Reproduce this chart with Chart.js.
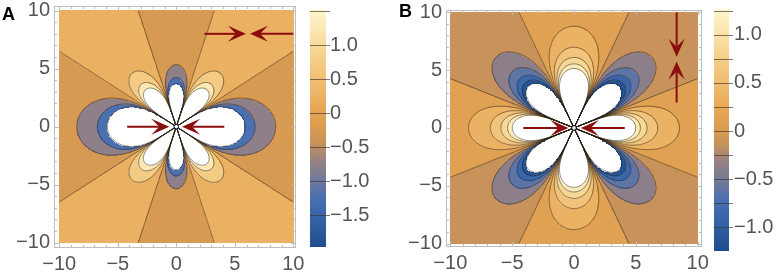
<!DOCTYPE html>
<html>
<head>
<meta charset="utf-8">
<script src="https://cdn.jsdelivr.net/npm/chart.js@4.4.1/dist/chart.umd.min.js"></script>
<style>
body { margin: 0; background: #fff; width: 782px; height: 276px; overflow: hidden; position: relative; font-family: "Liberation Sans", Arial, sans-serif; }
.panel { position: absolute; top: 0; width: 391px; height: 276px; }
.tag { position: absolute; font-weight: bold; font-size: 18px; color: #000; }
</style>
</head>
<body>
<div class="panel" style="left:0"><canvas id="chartA" width="391" height="276"></canvas><div class="tag" style="left:2px;top:4px">A</div></div>
<div class="panel" style="left:391px"><canvas id="chartB" width="391" height="276"></canvas><div class="tag" style="left:8px;top:1px">B</div></div>
<script>
// axes
var axisTicks = [-10, -5, 0, 5, 10];
var minorTicks = [-9, -8, -7, -6, -4, -3, -2, -1, 1, 2, 3, 4, 6, 7, 8, 9];
var fieldRange = [-10, 10];

// panel A: field ~ f(theta) / r^3, f = weights of cos(0), cos(2t), cos(4t), cos(8t)
var harmonicsA = [-48.9, -115.0, -142.6, 0];
var levelsA = [-1.5, -1, -0.5, 0, 0.5, 1, 1.5];
var barRangeA = [-1.97, 1.51];
var barTicksA = [-1.5, -1, -0.5, 0, 0.5, 1];
var arrowsA = [[2.4, 8, 5.95, 8], [10, 8, 6.3, 8], [-4.2, 0, -0.6, 0], [4.1, 0, 0.5, 0]];

// panel B
var harmonicsB = [4.25, -7.5, 166.25, -8];
var levelsB = [-1.25, -1, -0.75, -0.5, -0.25, 0, 0.25, 0.5, 0.75, 1, 1.25];
var barRangeB = [-1.24, 1.27];
var barTicksB = [-1, -0.5, 0, 0.5, 1];
var arrowsB = [[8.3, 10, 8.3, 6.15], [8.3, 2.2, 8.3, 5.75], [-4.1, 0, -0.45, 0], [4.1, 0, 0.55, 0]];

// colour map (position along the colour bar -> colour)
var paletteStops = [0, 0.12, 0.21, 0.30, 0.36, 0.44, 0.50, 0.58, 0.66, 0.78, 0.90, 1];
var paletteColors = ['#1d4c8c', '#3563a8', '#4a70b0', '#7a7b96', '#938085', '#c6925b',
                     '#d99b52', '#e6a653', '#edb568', '#f4cb83', '#fae3aa', '#fff5cc'];

var GRID = 300;
var textColor = '#555';
var tickFont = { family: '"Liberation Sans", Arial, sans-serif', size: 20 };

function hexToRgb(h) {
    return [parseInt(h.slice(1, 3), 16), parseInt(h.slice(3, 5), 16), parseInt(h.slice(5, 7), 16)];
}
var paletteRgb = paletteColors.map(hexToRgb);

function paletteAt(t) {
    t = Math.min(1, Math.max(0, t));
    var k = 0;
    while (k < paletteStops.length - 2 && t > paletteStops[k + 1]) k++;
    var u = (t - paletteStops[k]) / (paletteStops[k + 1] - paletteStops[k]);
    var a = paletteRgb[k], b = paletteRgb[k + 1];
    return 'rgb(' + a.map(function(c, i) { return Math.round(c + (b[i] - c) * u); }).join(',') + ')';
}

function fieldValue(h, x, y) {
    var r = Math.hypot(x, y);
    if (r < 0.05) r = 0.05;
    var t = Math.atan2(y, x);
    var f = h[0] + h[1] * Math.cos(2 * t) + h[2] * Math.cos(4 * t) + h[3] * Math.cos(8 * t);
    return f / (r * r * r);
}

function bandColor(v, cfg) {
    var L = cfg.levels;
    if (v < L[0] || v > L[L.length - 1]) return '#ffffff';
    var k = 0;
    while (k < L.length - 2 && v > L[k + 1]) k++;
    var mid = (L[k] + L[k + 1]) / 2;
    return paletteAt((mid - cfg.bar[0]) / (cfg.bar[1] - cfg.bar[0]));
}

function fmtAxis(v) {
    return v === 0 ? '0' : (v < 0 ? '\u2212' : '') + Math.abs(v);
}
function fmtBar(v) {
    return v === 0 ? '0' : (v < 0 ? '\u2212' : '') + Math.abs(v).toFixed(1);
}

function drawArrow(ctx, xs, ys, a) {
    var x0 = xs.getPixelForValue(a[0]), y0 = ys.getPixelForValue(a[1]);
    var x1 = xs.getPixelForValue(a[2]), y1 = ys.getPixelForValue(a[3]);
    var len = Math.hypot(x1 - x0, y1 - y0);
    var dx = (x1 - x0) / len, dy = (y1 - y0) / len;
    var L = 18, W = 8, notch = 10;
    ctx.strokeStyle = '#8b0d0d';
    ctx.fillStyle = '#8b0d0d';
    ctx.lineWidth = 2;
    ctx.beginPath();
    ctx.moveTo(x0, y0);
    ctx.lineTo(x1 - dx * notch, y1 - dy * notch);
    ctx.stroke();
    ctx.beginPath();
    ctx.moveTo(x1, y1);
    ctx.lineTo(x1 - dx * L - dy * W, y1 - dy * L + dx * W);
    ctx.lineTo(x1 - dx * notch, y1 - dy * notch);
    ctx.lineTo(x1 - dx * L + dy * W, y1 - dy * L - dx * W);
    ctx.closePath();
    ctx.fill();
}

var contourPlugin = {
    id: 'contourField',
    afterDraw: function(chart) {
        var cfg = chart.options.plugins.contourField;
        var ctx = chart.ctx, xs = chart.scales.x, ys = chart.scales.y, cb = chart.scales.cb;
        var lo = fieldRange[0], hi = fieldRange[1], n = GRID, step = (hi - lo) / n;
        var i, j;

        // filled bands, one cell per grid step
        ctx.save();
        for (i = 0; i < n; i++) {
            var px0 = Math.floor(xs.getPixelForValue(lo + i * step));
            var px1 = Math.ceil(xs.getPixelForValue(lo + (i + 1) * step));
            for (j = 0; j < n; j++) {
                var py0 = Math.ceil(ys.getPixelForValue(lo + j * step));
                var py1 = Math.floor(ys.getPixelForValue(lo + (j + 1) * step));
                ctx.fillStyle = bandColor(fieldValue(cfg.harmonics, lo + (i + 0.5) * step, lo + (j + 0.5) * step), cfg);
                ctx.fillRect(px0, py1, px1 - px0, py0 - py1);
            }
        }

        // contour lines (marching squares)
        var pxs = [], pys = [], vals = [];
        for (i = 0; i <= n; i++) {
            pxs.push(xs.getPixelForValue(lo + i * step));
            pys.push(ys.getPixelForValue(lo + i * step));
        }
        for (i = 0; i <= n; i++) {
            for (j = 0; j <= n; j++) vals.push(fieldValue(cfg.harmonics, lo + i * step, lo + j * step));
        }
        var V = function(a, b) { return vals[a * (n + 1) + b]; };
        ctx.beginPath();
        ctx.rect(pxs[0], pys[n], pxs[n] - pxs[0], pys[0] - pys[n]);
        ctx.clip();
        ctx.strokeStyle = 'rgba(45,35,25,0.6)';
        ctx.lineWidth = 0.9;
        ctx.beginPath();
        cfg.levels.forEach(function(L) {
            for (var a = 0; a < n; a++) {
                for (var b = 0; b < n; b++) {
                    var p = V(a, b), q = V(a + 1, b), r = V(a + 1, b + 1), s = V(a, b + 1), u, pts = [];
                    if ((p - L) * (q - L) < 0) { u = (L - p) / (q - p); pts.push([pxs[a] + u * (pxs[a + 1] - pxs[a]), pys[b]]); }
                    if ((q - L) * (r - L) < 0) { u = (L - q) / (r - q); pts.push([pxs[a + 1], pys[b] + u * (pys[b + 1] - pys[b])]); }
                    if ((r - L) * (s - L) < 0) { u = (L - r) / (s - r); pts.push([pxs[a + 1] + u * (pxs[a] - pxs[a + 1]), pys[b + 1]]); }
                    if ((s - L) * (p - L) < 0) { u = (L - s) / (p - s); pts.push([pxs[a], pys[b + 1] + u * (pys[b] - pys[b + 1])]); }
                    if (pts.length >= 2) { ctx.moveTo(pts[0][0], pts[0][1]); ctx.lineTo(pts[1][0], pts[1][1]); }
                    if (pts.length === 4) { ctx.moveTo(pts[2][0], pts[2][1]); ctx.lineTo(pts[3][0], pts[3][1]); }
                }
            }
        });
        ctx.stroke();
        ctx.restore();

        // arrows and the point at the origin
        ctx.save();
        cfg.arrows.forEach(function(a) { drawArrow(ctx, xs, ys, a); });
        ctx.beginPath();
        ctx.arc(xs.getPixelForValue(0), ys.getPixelForValue(0), 2.3, 0, 2 * Math.PI);
        ctx.fillStyle = '#fff';
        ctx.fill();
        ctx.strokeStyle = '#000';
        ctx.lineWidth = 1;
        ctx.stroke();
        ctx.restore();

        // frame with inward ticks
        var ca = chart.chartArea;
        ctx.save();
        ctx.strokeStyle = '#bdbdbd';
        ctx.lineWidth = 1;
        ctx.strokeRect(Math.round(ca.left) + 0.5, Math.round(ca.top) + 0.5, Math.round(ca.right - ca.left) - 1, Math.round(ca.bottom - ca.top) - 1);
        ctx.beginPath();
        var tick = function(v, len) {
            var x = Math.round(xs.getPixelForValue(v)) + 0.5, y = Math.round(ys.getPixelForValue(v)) + 0.5;
            ctx.moveTo(x, ca.bottom); ctx.lineTo(x, ca.bottom - len);
            ctx.moveTo(x, ca.top); ctx.lineTo(x, ca.top + len);
            ctx.moveTo(ca.left, y); ctx.lineTo(ca.left + len, y);
            ctx.moveTo(ca.right, y); ctx.lineTo(ca.right - len, y);
        };
        axisTicks.forEach(function(v) { tick(v, 5); });
        minorTicks.forEach(function(v) { tick(v, 3); });
        ctx.stroke();
        ctx.restore();

        // colour bar
        ctx.save();
        var bx = cb.left + cfg.barOffset, bw = cfg.barWidth, m = 240;
        for (i = 0; i < m; i++) {
            var v0 = cfg.bar[0] + (cfg.bar[1] - cfg.bar[0]) * i / m;
            var v1 = cfg.bar[0] + (cfg.bar[1] - cfg.bar[0]) * (i + 1) / m;
            var ya = cb.getPixelForValue(v0), yb = cb.getPixelForValue(v1);
            ctx.fillStyle = paletteAt((i + 0.5) / m);
            ctx.fillRect(bx, Math.floor(yb), bw, Math.ceil(ya) - Math.floor(yb));
        }
        ctx.strokeStyle = 'rgba(60,50,40,0.65)';
        ctx.lineWidth = 1;
        ctx.beginPath();
        cfg.levels.forEach(function(L) {
            if (L <= cfg.bar[0] || L >= cfg.bar[1]) return;
            var y = Math.round(cb.getPixelForValue(L)) + 0.5;
            ctx.moveTo(bx, y);
            ctx.lineTo(bx + bw + 4, y);
        });
        ctx.stroke();
        ctx.restore();
    }
};

function makeChart(id, opt) {
    var fixTicks = function(list) {
        return function(s) { s.ticks = list.map(function(v) { return { value: v }; }); };
    };
    var noPad = function(s) { s.paddingTop = 0; s.paddingBottom = 0; s.paddingLeft = 0; s.paddingRight = 0; };
    var ctx = document.getElementById(id).getContext('2d');
    return new Chart(ctx, {
        type: 'scatter',
        data: { datasets: [{ data: [] }] },
        plugins: [contourPlugin],
        options: {
            responsive: false,
            animation: false,
            events: [],
            layout: { autoPadding: false, padding: { top: opt.top, left: 0, right: 0, bottom: 0 } },
            plugins: {
                legend: { display: false },
                tooltip: { enabled: false },
                contourField: {
                    harmonics: opt.harmonics,
                    levels: opt.levels,
                    bar: opt.bar,
                    arrows: opt.arrows,
                    barOffset: opt.barOffset,
                    barWidth: opt.barWidth
                }
            },
            scales: {
                x: {
                    type: 'linear', position: 'bottom', min: opt.xRange[0], max: opt.xRange[1],
                    grid: { display: false, drawTicks: false }, border: { display: false },
                    ticks: { font: tickFont, color: textColor, padding: 4, autoSkip: false, maxRotation: 0, callback: fmtAxis },
                    afterBuildTicks: fixTicks(axisTicks),
                    afterFit: function(s) { s.height = opt.xHeight; noPad(s); }
                },
                y: {
                    type: 'linear', position: 'left', min: opt.yRange[0], max: opt.yRange[1],
                    grid: { display: false, drawTicks: false }, border: { display: false },
                    ticks: { font: tickFont, color: textColor, padding: 4, autoSkip: false, callback: fmtAxis },
                    afterBuildTicks: fixTicks(axisTicks),
                    afterFit: function(s) { s.width = opt.yWidth; noPad(s); }
                },
                cb: {
                    type: 'linear', axis: 'y', position: 'right', min: opt.cbRange[0], max: opt.cbRange[1],
                    grid: { display: false, drawTicks: false }, border: { display: false },
                    ticks: { font: tickFont, color: textColor, padding: opt.cbPad, autoSkip: false, callback: fmtBar },
                    afterBuildTicks: fixTicks(opt.barTicks),
                    afterFit: function(s) { s.width = opt.cbWidth; noPad(s); }
                }
            }
        }
    });
}

makeChart('chartA', {
    harmonics: harmonicsA, levels: levelsA, bar: barRangeA, barTicks: barTicksA, arrows: arrowsA,
    xRange: [-10.45, 10.23], yRange: [-10.46, 10.4], cbRange: [-1.985, 1.574],
    top: 6, xHeight: 28, yWidth: 54, cbWidth: 95, cbPad: 34, barOffset: 14, barWidth: 16
});

makeChart('chartB', {
    harmonics: harmonicsB, levels: levelsB, bar: barRangeB, barTicks: barTicksB, arrows: arrowsB,
    xRange: [-10.35, 10.35], yRange: [-10.3, 10.2], cbRange: [-1.208, 1.26],
    top: 10, xHeight: 29, yWidth: 55, cbWidth: 80, cbPad: 32, barOffset: 12, barWidth: 15
});
</script>
</body>
</html>
